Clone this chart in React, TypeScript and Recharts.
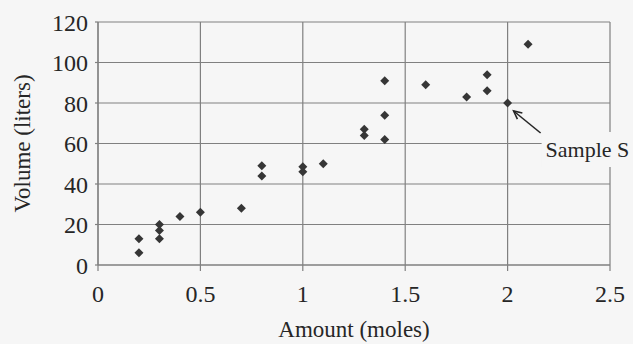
import React from 'react';
import { ScatterChart, Scatter, XAxis, YAxis, CartesianGrid, ReferenceDot } from 'recharts';

// amount (moles) and volume (liters)
const amounts = [0.2, 0.2, 0.3, 0.3, 0.3, 0.4, 0.5, 0.7, 0.8, 0.8, 1.0, 1.0, 1.1, 1.3, 1.3, 1.4, 1.4, 1.4, 1.6, 1.8, 1.9, 1.9, 2.0, 2.1];
const volumes = [13, 6, 20, 17, 13, 24, 26, 28, 49, 44, 48.5, 46, 50, 67, 64, 91, 74, 62, 89, 83, 94, 86, 80, 109];

const xTicks = [0, 0.5, 1, 1.5, 2, 2.5];
const yTicks = [0, 20, 40, 60, 80, 100, 120];

const sampleS = { x: 2.0, y: 80, label: 'Sample S' };

const FONT = '"Liberation Serif", "DejaVu Serif", serif';
const GRID = '#808080';
const INK = '#262626';
const PAPER = '#f6f6f6';

const points = amounts.map((x, i) => ({ x, y: volumes[i] }));

const Diamond = (props: any) => {
  const { cx, cy } = props;
  const r = 4.5;
  return (
    <polygon
      points={`${cx},${cy - r} ${cx + r},${cy} ${cx},${cy + r} ${cx - r},${cy}`}
      fill="#363636"
    />
  );
};

// arrow + label pointing at sample S
const SampleMarker = (props: any) => {
  const { cx, cy } = props;
  const tipX = cx + 6;
  const tipY = cy + 8;
  const tailX = cx + 33;
  const tailY = cy + 30;
  const ang = Math.atan2(tipY - tailY, tipX - tailX);
  const hl = 9;
  const hw = 0.45;
  const p1 = `${tipX - hl * Math.cos(ang - hw)},${tipY - hl * Math.sin(ang - hw)}`;
  const p2 = `${tipX - hl * Math.cos(ang + hw)},${tipY - hl * Math.sin(ang + hw)}`;
  return (
    <g>
      <rect x={cx + 34} y={cy + 29} width={100} height={35} fill={PAPER} />
      <line x1={tailX} y1={tailY} x2={tipX} y2={tipY} stroke={INK} strokeWidth={1.6} />
      <polyline points={`${p1} ${tipX},${tipY} ${p2}`} fill="none" stroke={INK} strokeWidth={1.6} />
      <text x={cx + 38} y={cy + 54} fontFamily={FONT} fontSize={22} fill={INK}>
        {sampleS.label}
      </text>
    </g>
  );
};

const YLabel = (props: any) => {
  const { viewBox } = props;
  const cy = viewBox.y + viewBox.height / 2;
  const cx = 22;
  return (
    <text
      x={cx}
      y={cy}
      transform={`rotate(-90 ${cx} ${cy})`}
      textAnchor="middle"
      dominantBaseline="central"
      fontFamily={FONT}
      fontSize={23}
      fill={INK}
    >
      Volume (liters)
    </text>
  );
};

export default function App() {
  const tickStyle = { fontFamily: FONT, fontSize: 24, fill: INK };
  return (
    <div style={{ position: 'absolute', left: 0, top: 0, width: 633, height: 344, background: PAPER }}>
      <ScatterChart width={633} height={344} margin={{ top: 22, right: 23, bottom: 0, left: 0 }}>
        <CartesianGrid stroke={GRID} strokeWidth={1.2} />
        <XAxis
          type="number"
          dataKey="x"
          domain={[0, 2.5]}
          ticks={xTicks}
          height={79}
          tickSize={6}
          tickMargin={14}
          tick={tickStyle}
          axisLine={{ stroke: GRID, strokeWidth: 1.2 }}
          tickLine={{ stroke: GRID, strokeWidth: 1.2 }}
          label={{ value: 'Amount (moles)', position: 'insideBottom', offset: 7, fontFamily: FONT, fontSize: 23, fill: INK }}
        />
        <YAxis
          type="number"
          dataKey="y"
          domain={[0, 120]}
          ticks={yTicks}
          width={98}
          tickSize={3}
          tickMargin={7}
          tick={tickStyle}
          axisLine={{ stroke: GRID, strokeWidth: 1.2 }}
          tickLine={{ stroke: GRID, strokeWidth: 1.2 }}
          label={<YLabel />}
        />
        <Scatter data={points} shape={<Diamond />} isAnimationActive={false} />
        <ReferenceDot x={sampleS.x} y={sampleS.y} ifOverflow="visible" shape={<SampleMarker />} />
      </ScatterChart>
    </div>
  );
}
